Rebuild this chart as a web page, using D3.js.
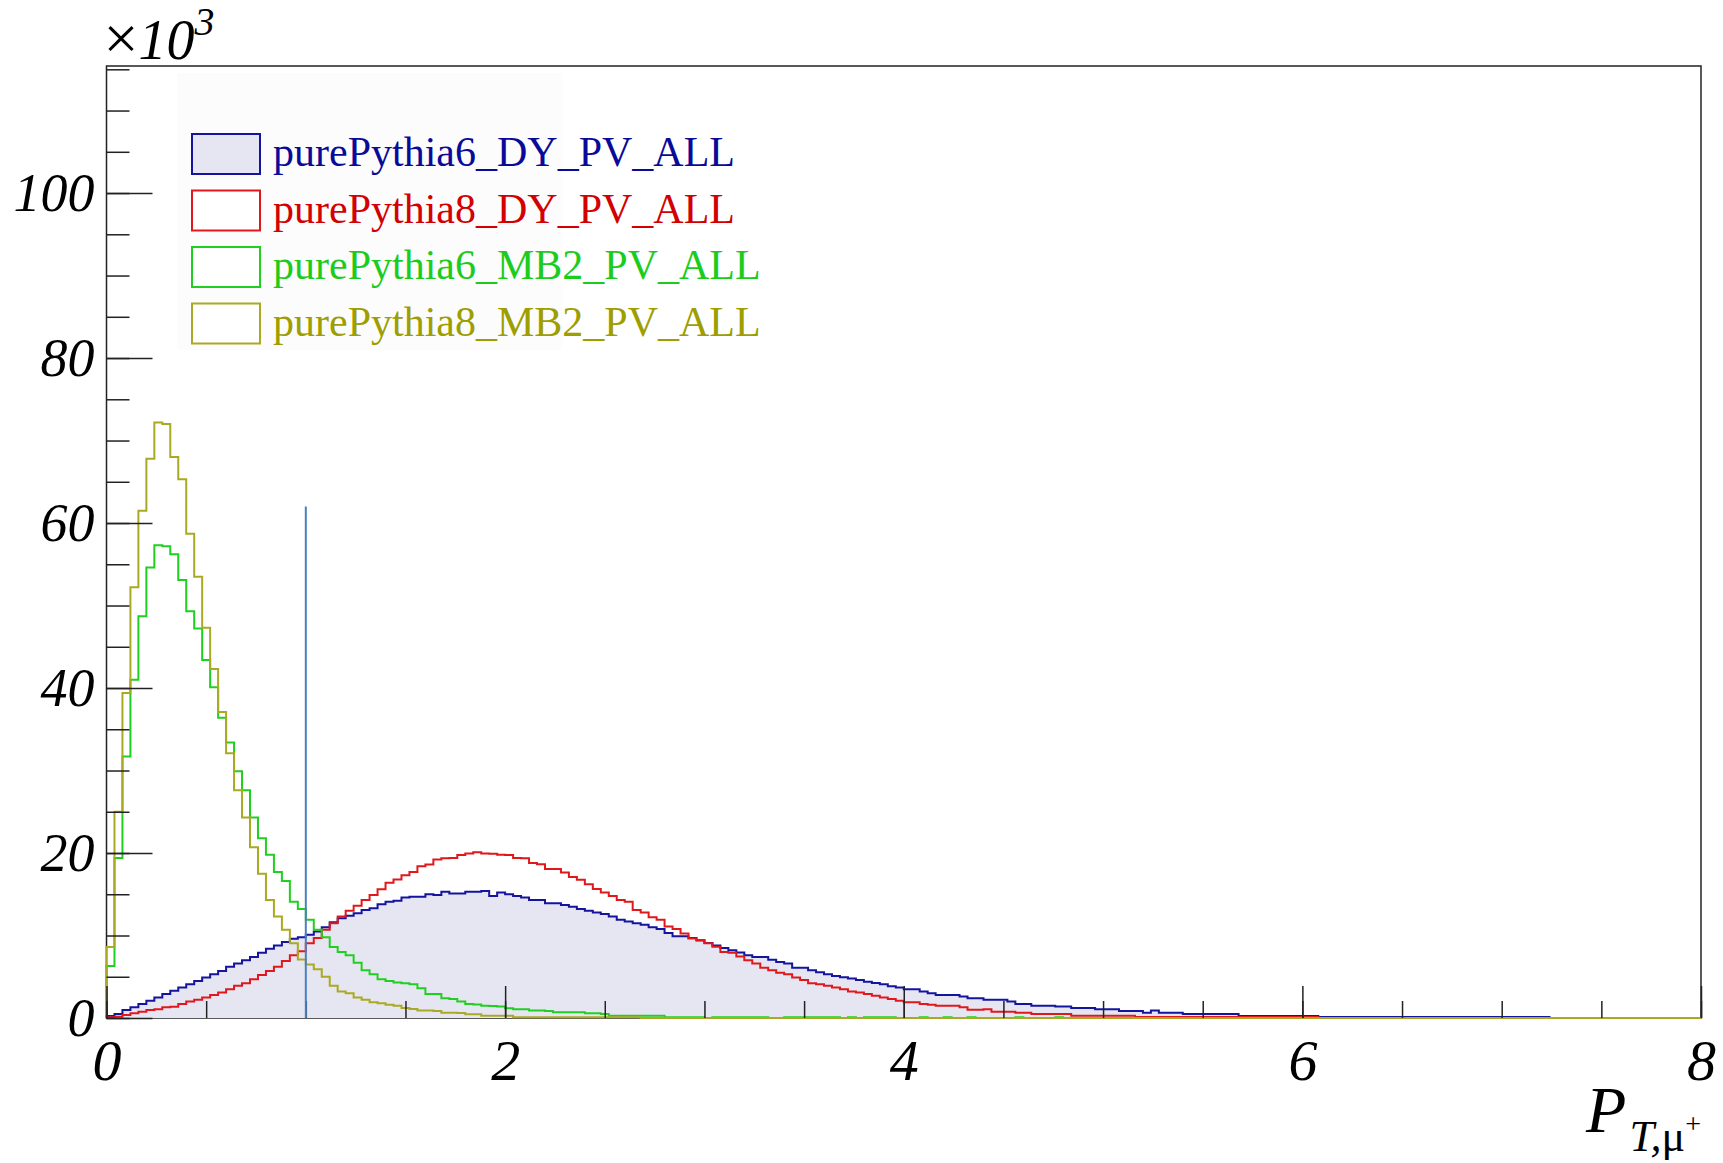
<!DOCTYPE html>
<html>
<head>
<meta charset="utf-8">
<script src="https://cdn.jsdelivr.net/npm/d3@7"></script>
<style>
body { margin: 0; background: #fff; }
svg text { font-family: "Liberation Serif", "Times New Roman", serif; }
</style>
</head>
<body>
<svg width="1723" height="1163"></svg>
<script>
// histogram binning: 200 bins on [0, 8], counts in units of 10^3
const xRange = [0, 8];
const nBins = 200;
const yMax = 115.4;

const xMajorTicks = [0, 2, 4, 6, 8];
const yMajorTicks = [0, 20, 40, 60, 80, 100];

const legendLabels = ["purePythia6_DY_PV_ALL", "purePythia8_DY_PV_ALL",
    "purePythia6_MB2_PV_ALL", "purePythia8_MB2_PV_ALL"];

// bins past the end of each list are empty
const py6DY = [
    0.24, 0.48, 0.97, 1.29, 1.7, 2.1, 2.5, 2.9, 3.3, 3.7,
    4.1, 4.5, 4.9, 5.3, 5.7, 6.2, 6.6, 7.0, 7.4, 7.9,
    8.4, 8.8, 9.2, 9.6, 9.8, 10.1, 10.5, 11.0, 11.6, 12.1,
    12.4, 12.7, 13.1, 13.3, 13.8, 14.1, 14.2, 14.6, 14.7, 14.7,
    15.0, 14.9, 15.3, 15.1, 15.1, 15.3, 15.3, 15.4, 14.8, 15.2,
    15.0, 14.8, 14.6, 14.3, 14.3, 13.9, 13.9, 13.7, 13.5, 13.2,
    13.0, 12.8, 12.6, 12.3, 11.9, 11.7, 11.5, 11.3, 11.0, 10.8,
    10.3, 9.9, 9.9, 9.7, 9.4, 9.1, 8.8, 8.5, 8.2, 7.95,
    7.6, 7.4, 7.4, 7.05, 6.8, 6.6, 6.1, 6.1, 5.8, 5.55,
    5.3, 5.1, 4.95, 4.8, 4.6, 4.4, 4.25, 4.1, 3.85, 3.7,
    3.5, 3.5, 3.2, 3.0, 2.8, 2.8, 2.8, 2.6, 2.4, 2.4,
    2.2, 2.2, 2.2, 2.0, 1.7, 1.7, 1.5, 1.5, 1.5, 1.4,
    1.4, 1.2, 1.2, 1.2, 1.05, 1.05, 1.05, 0.85, 0.85, 0.85,
    0.65, 0.9, 0.65, 0.65, 0.65, 0.48, 0.48, 0.48, 0.48, 0.48,
    0.48, 0.48, 0.24, 0.24, 0.24, 0.24, 0.24, 0.24, 0.24, 0.24,
    0.24, 0.24, 0.12, 0.12, 0.12, 0.12, 0.12, 0.12, 0.12, 0.12,
    0.12, 0.12, 0.12, 0.12, 0.12, 0.12, 0.12, 0.12, 0.12, 0.12,
    0.12, 0.12, 0.12, 0.12, 0.12, 0.12, 0.12, 0.12, 0.12, 0.12,
    0.12
];

const py8DY = [
    0.08, 0.16, 0.36, 0.57, 0.77, 0.97, 1.05, 1.3, 1.37, 1.7,
    2.0, 2.2, 2.5, 2.8, 3.1, 3.5, 3.9, 4.2, 4.7, 5.2,
    5.7, 6.2, 6.9, 7.6, 8.1, 9.05, 9.7, 10.7, 11.5, 12.3,
    13.0, 13.6, 14.3, 14.9, 15.6, 16.4, 16.8, 17.3, 17.7, 18.4,
    18.6, 19.2, 19.35, 19.4, 19.75, 19.95, 20.1, 19.95, 19.9, 19.8,
    19.75, 19.4, 19.35, 18.8, 18.65, 18.05, 18.05, 17.65, 17.1, 16.75,
    16.2, 15.65, 15.2, 14.8, 14.3, 14.1, 13.1, 12.8, 12.2, 11.9,
    11.1, 10.8, 10.25, 9.65, 9.45, 9.05, 8.65, 8.0, 7.9, 7.45,
    7.0, 6.6, 6.1, 5.8, 5.5, 5.3, 4.9, 4.6, 4.2, 4.1,
    3.9, 3.7, 3.5, 3.2, 3.1, 2.9, 2.7, 2.5, 2.3, 2.1,
    1.9, 1.9, 1.7, 1.6, 1.5, 1.5, 1.5, 1.3, 1.0, 1.0,
    1.05, 0.77, 0.77, 0.77, 0.65, 0.65, 0.48, 0.48, 0.48, 0.48,
    0.48, 0.28, 0.28, 0.28, 0.28, 0.28, 0.28, 0.28, 0.28, 0.12,
    0.12, 0.12, 0.12, 0.12, 0.12, 0.12, 0.12, 0.12, 0.12, 0.12,
    0.12, 0.12, 0.12, 0.12, 0.12, 0.12, 0.12, 0.12, 0.12, 0.12,
    0.12, 0.12
];

const py6MB2 = [
    6.3, 19.4, 31.7, 41.0, 48.7, 54.6, 57.3, 57.2, 56.2, 53.1,
    49.3, 47.2, 43.4, 40.1, 36.4, 33.4, 29.9, 27.6, 24.3, 21.8,
    19.8, 17.7, 16.6, 14.1, 13.2, 11.9, 10.7, 9.8, 8.6, 8.0,
    7.6, 6.7, 5.8, 5.3, 4.7, 4.5, 4.3, 4.2, 4.1, 3.6,
    2.9, 2.9, 2.4, 2.3, 2.0, 1.7, 1.65, 1.5, 1.45, 1.4,
    1.17, 1.05, 1.05, 0.9, 0.9, 0.85, 0.69, 0.69, 0.69, 0.69,
    0.57, 0.57, 0.48, 0.28, 0.28, 0.28, 0.28, 0.28, 0.28, 0.28,
    0.1, 0.1, 0.1, 0.1, 0.1, 0, 0.1, 0.1, 0.1, 0.1,
    0.1, 0.1, 0.1, 0, 0, 0.1, 0.1, 0.1, 0.1, 0.1,
    0.1, 0.1, 0, 0.1, 0, 0.1, 0.1, 0.1, 0.1, 0,
    0, 0, 0.1, 0, 0, 0.1, 0, 0, 0.1, 0,
    0, 0, 0, 0, 0.1, 0, 0, 0, 0, 0.1
];

const py8MB2 = [
    8.6, 25.0, 39.4, 52.2, 61.5, 67.8, 72.2, 72.0, 68.0, 65.3,
    58.7, 53.5, 47.3, 42.3, 37.1, 32.1, 27.6, 24.3, 20.7, 17.5,
    14.3, 12.3, 10.7, 9.05, 7.1, 6.5, 5.9, 5.0, 3.9, 3.2,
    3.0, 2.5, 2.2, 1.9, 1.8, 1.6, 1.5, 1.2, 1.1, 0.9,
    0.9, 0.85, 0.65, 0.65, 0.6, 0.44, 0.44, 0.28, 0.28, 0.28,
    0.28, 0.08, 0.08, 0.08, 0.08, 0.08, 0.08, 0.08, 0.08, 0.08,
    0.08, 0.08, 0.08, 0.08, 0.08, 0.08, 0.08
];

// vertical marker drawn at x = 1
const cutX = 1.0;
const cutHeight = 62;

const svg = d3.select("svg");
const frame = { left: 106.5, right: 1701, top: 66, bottom: 1018 };

const x = d3.scaleLinear().domain(xRange).range([frame.left, frame.right]);
const y = d3.scaleLinear().domain([0, yMax]).range([frame.bottom, frame.top]);

const binWidth = (xRange[1] - xRange[0]) / nBins;

// turn bin contents into step points, empty bins to the end of the range
function stepPoints(values) {
    const pts = [[xRange[0], 0]];
    for (let i = 0; i < nBins; i++) {
        pts.push([xRange[0] + i * binWidth, i < values.length ? values[i] : 0]);
    }
    pts.push([xRange[1], 0]);
    return pts;
}

const stepLine = d3.line()
    .x(d => x(d[0]))
    .y(d => y(d[1]))
    .curve(d3.curveStepAfter);

const series = [
    { name: legendLabels[0], values: py6DY, color: "#14149e", text: "#0a0a99", fill: "#e6e6f2" },
    { name: legendLabels[1], values: py8DY, color: "#e0181c", text: "#d20000", fill: "none" },
    { name: legendLabels[2], values: py6MB2, color: "#20d020", text: "#1ccc1c", fill: "none" },
    { name: legendLabels[3], values: py8MB2, color: "#aaaa22", text: "#9e9e00", fill: "none" }
];

// frame
svg.append("rect")
    .attr("x", frame.left)
    .attr("y", frame.top)
    .attr("width", frame.right - frame.left)
    .attr("height", frame.bottom - frame.top)
    .attr("fill", "none")
    .attr("stroke", "#222")
    .attr("stroke-width", 1.5);

// legend pad (barely off-white)
svg.append("rect")
    .attr("x", 177).attr("y", 73)
    .attr("width", 385).attr("height", 277)
    .attr("fill", "#fcfcfc");

const hists = svg.append("g").attr("class", "hists");

hists.selectAll("path")
    .data(series)
    .enter().append("path")
    .attr("d", d => stepLine(stepPoints(d.values)))
    .attr("fill", d => d.fill)
    .attr("stroke", d => d.color)
    .attr("stroke-width", 2)
    .attr("stroke-linejoin", "miter");

// axes, ticks drawn inward
function styleAxis(g) {
    g.select(".domain").remove();
    g.selectAll("line").attr("stroke", "#222").attr("stroke-width", 1.5);
    g.selectAll("text")
        .attr("fill", "#000")
        .attr("font-family", "Liberation Serif, Times New Roman, serif")
        .attr("font-style", "italic");
}

svg.append("g")
    .attr("transform", `translate(0,${frame.bottom})`)
    .call(d3.axisBottom(x).tickValues(d3.range(0, 8.01, 0.5)).tickSize(-17).tickFormat(""))
    .call(styleAxis);

svg.append("g")
    .attr("transform", `translate(0,${frame.bottom})`)
    .call(d3.axisBottom(x).tickValues(xMajorTicks).tickSize(-32).tickPadding(21).tickFormat(d3.format("d")))
    .call(styleAxis)
    .call(g => g.selectAll("text").attr("font-size", 58));

svg.append("g")
    .attr("transform", `translate(0,0)`)
    .attr("transform", `translate(${frame.left},0)`)
    .call(d3.axisLeft(y).tickValues(d3.range(0, 116, 5)).tickSize(-23).tickFormat(""))
    .call(styleAxis);

svg.append("g")
    .attr("transform", `translate(${frame.left},0)`)
    .call(d3.axisLeft(y).tickValues(yMajorTicks).tickSize(-46).tickPadding(12).tickFormat(d3.format("d")))
    .call(styleAxis)
    .call(g => g.selectAll("text").attr("font-size", 54));

// x10^3 multiplier
const mult = svg.append("text")
    .attr("x", frame.left - 3)
    .attr("y", 59)
    .attr("font-size", 56);
mult.append("tspan").attr("font-size", 62).text("×");
mult.append("tspan").attr("font-style", "italic").text("10");
mult.append("tspan").attr("font-style", "italic").attr("font-size", 40).attr("dy", -24).text("3");

// x axis title
const xt = svg.append("text")
    .attr("x", 1701)
    .attr("y", 1132)
    .attr("text-anchor", "end")
    .attr("font-style", "italic");
xt.append("tspan").attr("font-size", 66).text("P");
xt.append("tspan").attr("font-size", 44).attr("dy", 19).attr("dx", 3).text("T,");
xt.append("tspan").attr("font-size", 44).attr("font-style", "normal").text("μ");
xt.append("tspan").attr("font-size", 28).attr("font-style", "normal").attr("dy", -18).text("+");

// vertical marker
svg.append("line")
    .attr("x1", x(cutX)).attr("x2", x(cutX))
    .attr("y1", y(0)).attr("y2", y(cutHeight))
    .attr("stroke", "#4a80c0")
    .attr("stroke-width", 2);

// legend
const legend = svg.append("g").attr("class", "legend");
const entry = legend.selectAll("g")
    .data(series)
    .enter().append("g")
    .attr("transform", (d, i) => `translate(0,${i * 56.5})`);

entry.append("rect")
    .attr("x", 192).attr("y", 134)
    .attr("width", 68).attr("height", 40)
    .attr("fill", d => d.fill === "none" ? "#fff" : d.fill)
    .attr("stroke", d => d.color)
    .attr("stroke-width", 2);

entry.append("text")
    .attr("x", 273).attr("y", 166)
    .attr("font-size", 42)
    .attr("fill", d => d.text)
    .text(d => d.name);
</script>
</body>
</html>
